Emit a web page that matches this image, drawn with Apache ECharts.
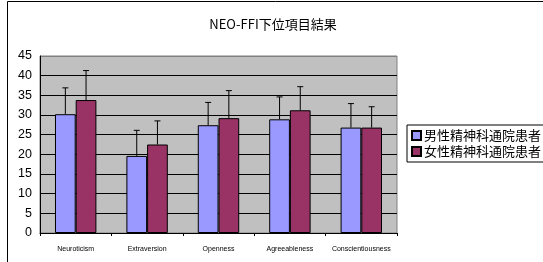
<!DOCTYPE html>
<html>
<head>
<meta charset="utf-8">
<script src="https://cdn.jsdelivr.net/npm/echarts@6/dist/echarts.min.js"></script>
<style>
  html, body { margin: 0; padding: 0; background: #fff; }
  #main { width: 543px; height: 262px; }
</style>
</head>
<body>
<div id="main"></div>
<script>
// NEO-FFI subscale means (bar) and mean+SD (error bar tops)
var categories = ['Neuroticism', 'Extraversion', 'Openness', 'Agreeableness', 'Conscientiousness'];
var seriesNames = ['男性精神科通院患者', '女性精神科通院患者'];
var maleMean = [30.2, 19.6, 27.4, 28.9, 26.8];
var maleErrTop = [36.9, 26.1, 33.2, 34.6, 32.9];
var femaleMean = [33.8, 22.5, 29.2, 31.2, 26.8];
var femaleErrTop = [41.3, 28.5, 36.2, 37.2, 32.1];
var yTicks = [0, 45, 5]; // min, max, interval

var myChart = echarts.init(document.getElementById('main'));

var gapRatio = 0.42;

function errorRender(side) {
    return function (params, api) {
        var idx = api.value(0);
        var base = api.coord([idx, api.value(1)]);
        var top = api.coord([idx, api.value(2)]);
        var band = api.size([1, 0])[0];
        var barW = band * (1 - gapRatio) / 2;
        var x = base[0] + side * barW / 2;
        var cap = 3;
        var style = { stroke: '#000', lineWidth: 1 };
        return {
            type: 'group',
            children: [
                { type: 'line', shape: { x1: x, y1: base[1], x2: x, y2: top[1] }, style: style },
                { type: 'line', shape: { x1: x - cap, y1: top[1], x2: x + cap, y2: top[1] }, style: style }
            ]
        };
    };
}

var maleErr = categories.map(function (c, i) { return [i, maleMean[i], maleErrTop[i]]; });
var femaleErr = categories.map(function (c, i) { return [i, femaleMean[i], femaleErrTop[i]]; });

var option = {
    backgroundColor: '#fff',
    animation: false,
    title: {
        text: 'NEO-FFI下位項目結果',
        left: 268,
        textAlign: 'center',
        top: 13,
        textStyle: { fontFamily: 'Noto Sans CJK JP', fontSize: 13, fontWeight: 'normal', color: '#000' }
    },
    graphic: [{
        type: 'rect',
        shape: { x: 7.5, y: 1.5, width: 600, height: 300 },
        style: { fill: 'none', stroke: '#000', lineWidth: 1 },
        silent: true
    }],
    legend: {
        data: seriesNames,
        orient: 'vertical',
        left: 407,
        top: 125,
        padding: [4, 3, 4, 4],
        itemGap: 3,
        itemWidth: 9,
        itemHeight: 9,
        icon: 'rect',
        borderColor: '#000',
        borderWidth: 1,
        textStyle: { fontFamily: 'Noto Sans CJK JP', fontSize: 13, color: '#000', padding: [0, 0, 0, -2] }
    },
    grid: {
        left: 40, top: 56, width: 357, height: 177, containLabel: false,
        show: true, borderColor: '#808080', borderWidth: 1, backgroundColor: '#c0c0c0'
    },
    xAxis: {
        type: 'category',
        data: categories,
        axisLine: { lineStyle: { color: '#000' } },
        axisTick: { show: true, inside: false, length: 3, alignWithLabel: false, lineStyle: { color: '#000' } },
        axisLabel: { fontSize: 7, color: '#000', margin: 13, interval: 0, fontFamily: 'Arial' },
        splitLine: { show: false }
    },
    yAxis: {
        type: 'value',
        min: yTicks[0],
        max: yTicks[1],
        interval: yTicks[2],
        axisLine: { show: true, lineStyle: { color: '#000' } },
        axisTick: { show: false },
        axisLabel: { fontSize: 12.5, color: '#000', margin: 8, fontFamily: 'Liberation Sans' },
        splitLine: {
            show: true,
            lineStyle: { color: ['#000', '#000', '#000', '#000', '#000', '#000', '#000', '#000', '#000', '#808080'], width: 1 }
        }
    },
    series: [{
        name: seriesNames[0],
        type: 'bar',
        data: maleMean,
        barGap: 0,
        barCategoryGap: (gapRatio * 100) + '%',
        itemStyle: { color: '#9999ff', borderColor: '#000', borderWidth: 1 }
    }, {
        name: seriesNames[1],
        type: 'bar',
        data: femaleMean,
        itemStyle: { color: '#993366', borderColor: '#000', borderWidth: 1 }
    }, {
        type: 'custom',
        renderItem: errorRender(-1),
        data: maleErr,
        encode: { x: 0, y: [1, 2] },
        z: 10
    }, {
        type: 'custom',
        renderItem: errorRender(1),
        data: femaleErr,
        encode: { x: 0, y: [1, 2] },
        z: 10
    }]
};

myChart.setOption(option);
</script>
</body>
</html>
